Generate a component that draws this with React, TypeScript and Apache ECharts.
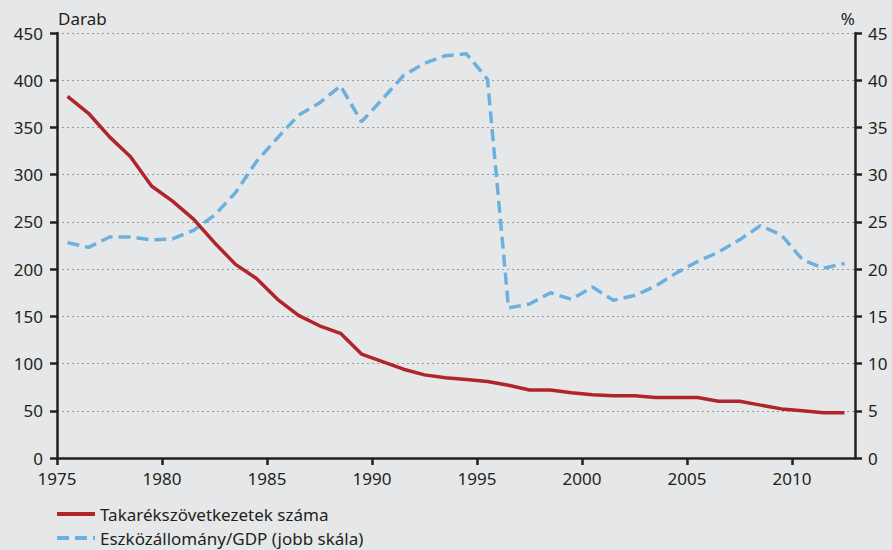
import React, { useEffect, useRef } from "react";
import * as echarts from "echarts";

const years = [
  1975, 1976, 1977, 1978, 1979, 1980, 1981, 1982, 1983, 1984,
  1985, 1986, 1987, 1988, 1989, 1990, 1991, 1992, 1993, 1994,
  1995, 1996, 1997, 1998, 1999, 2000, 2001, 2002, 2003, 2004,
  2005, 2006, 2007, 2008, 2009, 2010, 2011, 2012,
];

const coopCount = [
  383, 365, 340, 319, 288, 272, 253, 228, 205, 190,
  168, 151, 140, 132, 110, 102, 94, 88, 85, 83,
  81, 77, 72, 72, 69, 67, 66, 66, 64, 64,
  64, 60, 60, 56, 52, 50, 48, 48,
];

const assetsToGdp = [
  22.8, 22.3, 23.4, 23.4, 23.1, 23.2, 24.1, 25.7, 28.1, 31.4,
  33.9, 36.3, 37.6, 39.4, 35.6, 38.0, 40.5, 41.8, 42.6, 42.8,
  40.1, 15.9, 16.3, 17.5, 16.8, 18.1, 16.7, 17.2, 18.2, 19.6,
  20.8, 21.8, 23.1, 24.6, 23.6, 21.0, 20.1, 20.6,
];

const xTickLabels = [1975, 1980, 1985, 1990, 1995, 2000, 2005, 2010];

const seriesNames = ["Takarékszövetkezetek száma", "Eszközállomány/GDP (jobb skála)"];

const FONT = "'Noto Sans', sans-serif";
const INK = "#231f20";

export default function App() {
  const ref = useRef<HTMLDivElement>(null);

  useEffect(() => {
    if (!ref.current) return;
    const chart = echarts.init(ref.current, undefined, { renderer: "svg" });
    const mid = (i: number) => years[i] + 0.5;
    const option: any = {
      animation: false,
      backgroundColor: "#e6e7e9",
      textStyle: { fontFamily: FONT, color: INK },
      grid: { left: 57, right: 37, top: 33, bottom: 92 },
      xAxis: {
        type: "value",
        min: 1975,
        max: 2013,
        interval: 5,
        axisLine: { show: true, onZero: false, lineStyle: { color: INK, width: 2.5 } },
        axisTick: { show: true, length: 7, lineStyle: { color: INK, width: 2.5 } },
        axisLabel: {
          margin: 12,
          fontSize: 17,
          fontFamily: FONT,
          color: INK,
          formatter: (v: number) => (xTickLabels.indexOf(Math.round(v)) >= 0 && Math.abs(v - Math.round(v)) < 1e-6 ? String(Math.round(v)) : ""),
          showMaxLabel: false,
        },
        splitLine: { show: false },
      },
      yAxis: [
        {
          type: "value",
          min: 0,
          max: 450,
          interval: 50,
          position: "left",
          axisLine: { show: true, lineStyle: { color: INK, width: 2.5 } },
          axisTick: { show: true, length: 7, lineStyle: { color: INK, width: 2.5 } },
          axisLabel: { margin: 14, fontSize: 17, fontFamily: FONT, color: INK },
          splitLine: { show: true, lineStyle: { color: "#9a9a9a", width: 1, type: [2, 3] } },
        },
        {
          type: "value",
          min: 0,
          max: 45,
          interval: 5,
          position: "right",
          axisLine: { show: true, lineStyle: { color: INK, width: 2.5 } },
          axisTick: { show: true, length: 7, lineStyle: { color: INK, width: 2.5 } },
          axisLabel: { margin: 13, fontSize: 17, fontFamily: FONT, color: INK },
          splitLine: { show: false },
        },
      ],
      legend: {
        orient: "vertical",
        left: 55,
        top: 505,
        itemWidth: 38,
        itemHeight: 14,
        itemGap: 6,
        padding: 0,
        itemStyle: { opacity: 0 },
        lineStyle: { width: 4 },
        textStyle: { fontSize: 17, fontFamily: FONT, color: INK, lineHeight: 18 },
        data: seriesNames,
      },
      graphic: [
        {
          type: "text",
          left: 58,
          top: 10,
          style: { text: "Darab", font: `17px ${FONT}`, fill: INK },
        },
        {
          type: "text",
          right: 892 - 855,
          top: 10,
          style: { text: "%", font: `17px ${FONT}`, fill: INK },
        },
      ],
      series: [
        {
          name: seriesNames[0],
          type: "line",
          yAxisIndex: 0,
          symbol: "none",
          lineStyle: { color: "#b0242a", width: 3.5 },
          itemStyle: { color: "#b0242a" },
          data: coopCount.map((v, i) => [mid(i), v]),
          z: 3,
        },
        {
          name: seriesNames[1],
          type: "line",
          yAxisIndex: 1,
          symbol: "none",
          lineStyle: { color: "#6cb0de", width: 3.5, type: [12, 6] },
          itemStyle: { color: "#6cb0de" },
          data: assetsToGdp.map((v, i) => [mid(i), v]),
          z: 2,
        },
      ],
    };
    chart.setOption(option);
    return () => chart.dispose();
  }, []);

  return (
    <div
      ref={ref}
      style={{ position: "fixed", left: 0, top: 0, width: 892, height: 550 }}
    />
  );
}
